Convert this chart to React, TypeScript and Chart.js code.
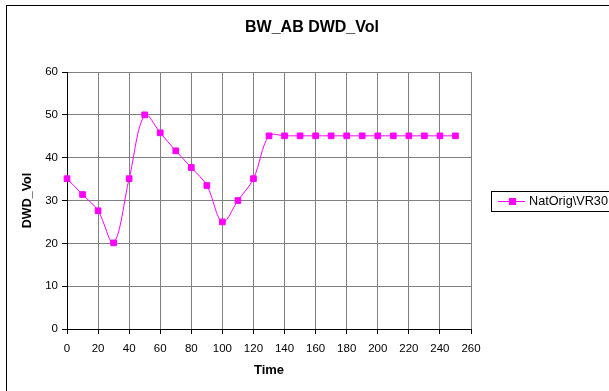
import React, { useEffect, useRef } from "react";
import { Chart, registerables } from "chart.js";

Chart.register(...registerables);

const chartTitle = "BW_AB DWD_Vol";
const xAxisTitle = "Time";
const yAxisTitle = "DWD_Vol";
const seriesName = "NatOrig\\VR30";

const times = [0, 10, 20, 30, 40, 50, 60, 70, 80, 90, 100, 110, 120, 130, 140, 150, 160, 170, 180, 190, 200, 210, 220, 230, 240, 250];
const values = [35.1, 31.4, 27.6, 20.1, 35.1, 50.0, 45.8, 41.6, 37.7, 33.5, 25.0, 30.0, 35.1, 45.1, 45.1, 45.1, 45.1, 45.1, 45.1, 45.1, 45.1, 45.1, 45.1, 45.1, 45.1, 45.1];

const xMin = 0;
const xMax = 260;
const xStep = 20;
const yMin = 0;
const yMax = 60;
const yStep = 10;

const FONT = "'Liberation Sans', Arial, Helvetica, sans-serif";
const MAGENTA = "#FF00FF";
const W = 624;
const H = 400;

export default function App() {
  const ref = useRef<HTMLCanvasElement | null>(null);

  useEffect(() => {
    if (!ref.current) return;

    const framePlugin = {
      id: "frame",
      beforeDraw(chart: any) {
        const ctx = chart.ctx;
        ctx.save();
        ctx.fillStyle = "#fff";
        ctx.fillRect(0, 0, chart.width, chart.height);
        ctx.strokeStyle = "#000";
        ctx.lineWidth = 1;
        ctx.strokeRect(6.5, 5.5, chart.width + 20, chart.height + 20);
        ctx.restore();
      },
    };

    const titlePlugin = {
      id: "chartTitleText",
      afterDraw(chart: any) {
        const ctx = chart.ctx;
        ctx.save();
        ctx.fillStyle = "#000";
        ctx.font = `bold 16px ${FONT}`;
        ctx.textAlign = "center";
        ctx.textBaseline = "middle";
        ctx.fillText(chartTitle, 312, 28);
        ctx.restore();
      },
    };

    const legendPlugin = {
      id: "customLegend",
      afterDraw(chart: any) {
        const ctx = chart.ctx;
        ctx.save();
        ctx.strokeStyle = "#000";
        ctx.lineWidth = 1;
        ctx.strokeRect(491.5, 191.5, 200, 20);
        const ly = 201.5;
        ctx.strokeStyle = MAGENTA;
        ctx.beginPath();
        ctx.moveTo(498, ly);
        ctx.lineTo(525, ly);
        ctx.stroke();
        ctx.fillStyle = MAGENTA;
        ctx.fillRect(509, ly - 3.5, 7, 7);
        ctx.fillStyle = "#000";
        ctx.font = `12.7px ${FONT}`;
        ctx.textBaseline = "middle";
        ctx.textAlign = "left";
        ctx.fillText(seriesName, 529, ly);
        ctx.restore();
      },
    };

    const chart = new Chart(ref.current, {
      type: "line",
      data: {
        datasets: [
          {
            label: seriesName,
            data: times.map((t, i) => ({ x: t, y: values[i] })),
            borderColor: MAGENTA,
            backgroundColor: MAGENTA,
            borderWidth: 1,
            pointStyle: "rect",
            pointRadius: 4,
            pointBorderWidth: 1,
            pointBackgroundColor: MAGENTA,
            pointBorderColor: MAGENTA,
            tension: 0.35,
            fill: false,
            clip: false,
          },
        ],
      },
      options: {
        animation: false,
        responsive: false,
        devicePixelRatio: 1,
        layout: { padding: { left: 0, right: W - 471, top: 72, bottom: 0 } },
        plugins: {
          legend: { display: false },
          tooltip: { enabled: false },
          title: { display: false },
        },
        scales: {
          x: {
            type: "linear",
            min: xMin,
            max: xMax,
            afterFit: (s: any) => {
              s.height = H - 329;
            },
            ticks: {
              stepSize: xStep,
              color: "#000",
              font: { family: FONT, size: 11.5 },
              padding: 8,
              maxRotation: 0,
            },
            grid: {
              color: "#808080",
              tickColor: "#000",
              tickLength: 5,
              lineWidth: 1,
            },
            border: { display: true, color: "#000", width: 1 },
            title: {
              display: true,
              text: xAxisTitle,
              color: "#000",
              font: { family: FONT, size: 13, weight: "bold" },
              padding: { top: 0, bottom: 21.5 },
            },
          },
          y: {
            type: "linear",
            min: yMin,
            max: yMax,
            afterFit: (s: any) => {
              s.width = 67;
            },
            ticks: {
              stepSize: yStep,
              color: "#000",
              font: { family: FONT, size: 11.5 },
              padding: 4,
            },
            grid: {
              color: "#808080",
              tickColor: "#000",
              tickLength: 5,
              lineWidth: 1,
            },
            border: { display: true, color: "#000", width: 1 },
            title: {
              display: true,
              text: yAxisTitle,
              color: "#000",
              font: { family: FONT, size: 12.5, weight: "bold" },
              padding: { top: 20, bottom: 0 },
            },
          },
        },
      },
      plugins: [framePlugin, titlePlugin, legendPlugin],
    } as any);

    return () => chart.destroy();
  }, []);

  return (
    <div
      style={{
        position: "fixed",
        left: 0,
        top: 0,
        width: 609,
        height: 391,
        overflow: "hidden",
        background: "#fff",
      }}
    >
      <canvas ref={ref} width={W} height={H} style={{ display: "block", width: W, height: H }} />
    </div>
  );
}
